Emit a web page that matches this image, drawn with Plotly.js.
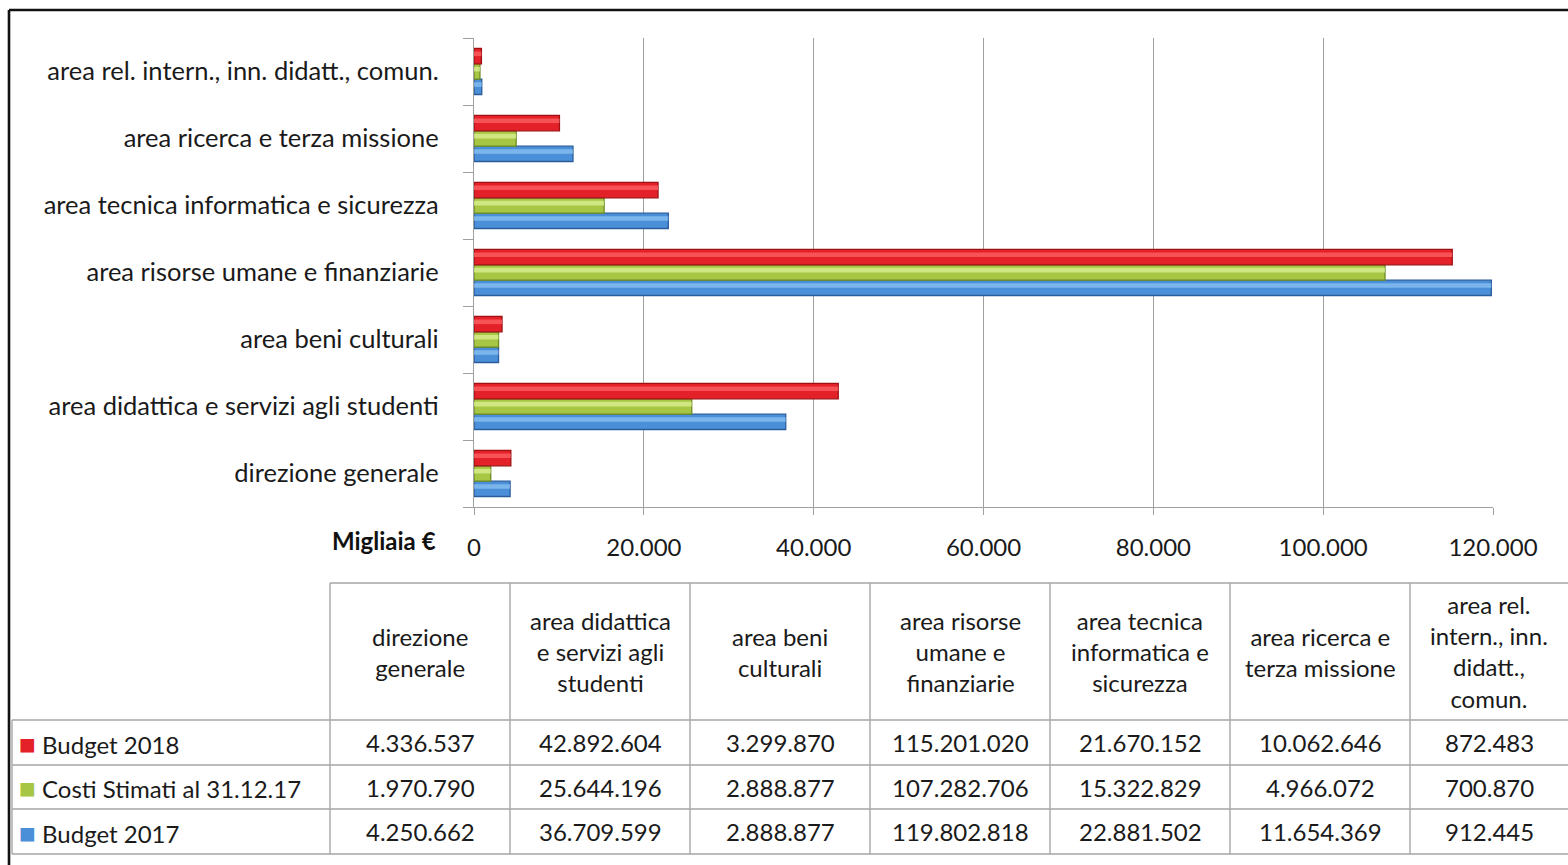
<!DOCTYPE html>
<html>
<head>
<meta charset="utf-8">
<script src="https://cdn.plot.ly/plotly-3.0.1.min.js"></script>
<style>html,body{margin:0;padding:0;background:#fff;}#chart{width:1568px;height:865px;}</style>
</head>
<body>
<div id="chart"></div>
<script>
// ---- data ----
const categories = [
  'direzione generale',
  'area didattica e servizi agli studenti',
  'area beni culturali',
  'area risorse umane e finanziarie',
  'area tecnica informatica e sicurezza',
  'area ricerca e terza missione',
  'area rel. intern., inn. didatt., comun.'
];
const headerLabels = [
  'direzione<br>generale',
  'area didattica<br>e servizi agli<br>studenti',
  'area beni<br>culturali',
  'area risorse<br>umane e<br>finanziarie',
  'area tecnica<br>informatica e<br>sicurezza',
  'area ricerca e<br>terza missione',
  'area rel.<br>intern., inn.<br>didatt.,<br>comun.'
];
const budget2018 = [4336537, 42892604, 3299870, 115201020, 21670152, 10062646, 872483];
const costi2017  = [1970790, 25644196, 2888877, 107282706, 15322829, 4966072, 700870];
const budget2017 = [4250662, 36709599, 2888877, 119802818, 22881502, 11654369, 912445];
const seriesNames = ['Budget 2018', 'Costi Stimati al 31.12.17', 'Budget 2017'];
const axisUnit = 'Migliaia €';

// ---- styling / layout constants ----
const W = 1568, H = 865;
const FONT = 'Lato, "Open Sans", sans-serif';
const FS = 24;
const colors = {
  'Budget 2018': {main:'#E42128', light:'#FF6A6A', dark:'#9E1014'},
  'Costi Stimati al 31.12.17': {main:'#A6C644', light:'#E2F39A', dark:'#6E8C25'},
  'Budget 2017': {main:'#4A8FD8', light:'#8EC4F5', dark:'#2A5C9C'}
};
const px = v => v / W;
const py = v => 1 - v / H;

const seriesData = {
  'Budget 2018': budget2018,
  'Costi Stimati al 31.12.17': costi2017,
  'Budget 2017': budget2017
};
// bar placement within a category (category units)
const barW = 0.229;
const slotOffset = {'Budget 2017': -0.343, 'Costi Stimati al 31.12.17': -0.114, 'Budget 2018': 0.115};

const traces = [];
['Budget 2017', 'Costi Stimati al 31.12.17', 'Budget 2018'].forEach(name => {
  const vals = seriesData[name].map(v => v / 1000);
  const c = colors[name];
  traces.push({
    type: 'bar', orientation: 'h', name: name,
    y: categories, x: vals,
    width: barW, offset: slotOffset[name],
    marker: {color: c.main, line: {color: c.dark, width: 1.3}},
    hoverinfo: 'x+name'
  });
  // highlight stripe for bevel look
  traces.push({
    type: 'bar', orientation: 'h', name: name + ' hl', showlegend: false,
    y: categories, x: vals,
    width: barW * 0.3, offset: slotOffset[name] + barW * 0.5,
    marker: {color: c.light, opacity: 0.7, line: {width: 0}},
    hoverinfo: 'skip'
  });
});

// ---- table (below the chart) ----
const colEdges = [12, 330, 510, 690, 870, 1050, 1230, 1410, 1568];
const rowEdges = [583, 720, 765, 809, 854];
const gridCol = '#A6A6A6';
const shapes = [];
shapes.push({type:'line', xref:'paper', yref:'paper', x0:px(colEdges[1]), x1:px(colEdges[8]), y0:py(rowEdges[0]), y1:py(rowEdges[0]), line:{color:gridCol, width:1.4}});
for (let r = 1; r < rowEdges.length; r++) {
  shapes.push({type:'line', xref:'paper', yref:'paper', x0:px(colEdges[0]), x1:px(colEdges[8]), y0:py(rowEdges[r]), y1:py(rowEdges[r]), line:{color:gridCol, width:1.4}});
}
shapes.push({type:'line', xref:'paper', yref:'paper', x0:px(colEdges[0]), x1:px(colEdges[0]), y0:py(rowEdges[1]), y1:py(rowEdges[4]), line:{color:gridCol, width:1.4}});
for (let c = 1; c < colEdges.length - 1; c++) {
  shapes.push({type:'line', xref:'paper', yref:'paper', x0:px(colEdges[c]), x1:px(colEdges[c]), y0:py(rowEdges[0]), y1:py(rowEdges[4]), line:{color:gridCol, width:1.4}});
}
// outer frame (top & left visible)
shapes.push({type:'line', xref:'paper', yref:'paper', x0:px(9), x1:1.01, y0:py(10), y1:py(10), line:{color:'#111', width:2.6}});
shapes.push({type:'line', xref:'paper', yref:'paper', x0:px(9), x1:px(9), y0:py(10), y1:-0.01, line:{color:'#111', width:2.6}});

const fmt = n => String(n).replace(/\B(?=(\d{3})+(?!\d))/g, '.');
const annotations = [];
const txtFont = {family: FONT, size: FS, color: '#1a1a1a'};
headerLabels.forEach((lab, i) => {
  annotations.push({xref:'paper', yref:'paper', x:px((colEdges[i+1]+colEdges[i+2])/2), y:py((rowEdges[0]+rowEdges[1])/2),
    text: lab, showarrow:false, xanchor:'center', yanchor:'middle', align:'center', font: txtFont});
});
seriesNames.forEach((name, r) => {
  const yc = py((rowEdges[r+1] + rowEdges[r+2]) / 2);
  annotations.push({xref:'paper', yref:'paper', x:px(17), y:yc, xanchor:'left', yanchor:'middle', showarrow:false,
    text: '<span style="color:' + colors[name].main + ';font-size:28px">■</span> ' + name, font: txtFont});
  seriesData[name].forEach((v, i) => {
    annotations.push({xref:'paper', yref:'paper', x:px((colEdges[i+1]+colEdges[i+2])/2), y:yc, xanchor:'center', yanchor:'middle', showarrow:false,
      text: fmt(v), font: txtFont});
  });
});
annotations.push({xref:'paper', yref:'paper', x:px(438), y:py(540), xanchor:'right', yanchor:'middle', showarrow:false,
  text:'<b>' + axisUnit + '</b>', font:{family: FONT, size: FS, color:'#111'}});

const layout = {
  width: W, height: H,
  margin: {l:0, r:0, t:0, b:0},
  paper_bgcolor: '#fff', plot_bgcolor: '#fff',
  separators: ',.',
  showlegend: false,
  barmode: 'overlay',
  font: {family: FONT, size: FS, color: '#1a1a1a'},
  xaxis: {
    domain: [px(474), px(1493)],
    range: [0, 120000],
    dtick: 20000, tickformat: ',d',
    showgrid: true, gridcolor: '#A0A0A0', gridwidth: 1.2,
    zeroline: false,
    showline: true, linecolor: '#A0A0A0', linewidth: 1.2,
    ticks: 'outside', ticklen: 7, tickcolor: '#A0A0A0',
    ticklabelstandoff: 12,
    tickfont: {family: FONT, size: FS, color: '#1a1a1a'},
    fixedrange: true
  },
  yaxis: {
    domain: [py(507), py(38)],
    type: 'category', categoryorder: 'array', categoryarray: categories,
    range: [-0.5, 6.5],
    tickson: 'boundaries', ticks: 'outside', ticklen: 10, tickcolor: '#A0A0A0',
    showgrid: false, zeroline: false,
    showline: true, linecolor: '#A0A0A0', linewidth: 1.2,
    ticklabelstandoff: 29,
    tickfont: {family: FONT, size: 25.5, color: '#1a1a1a'},
    fixedrange: true
  },
  shapes: shapes,
  annotations: annotations
};

Plotly.newPlot('chart', traces, layout, {displayModeBar: false, staticPlot: true});
</script>
</body>
</html>
